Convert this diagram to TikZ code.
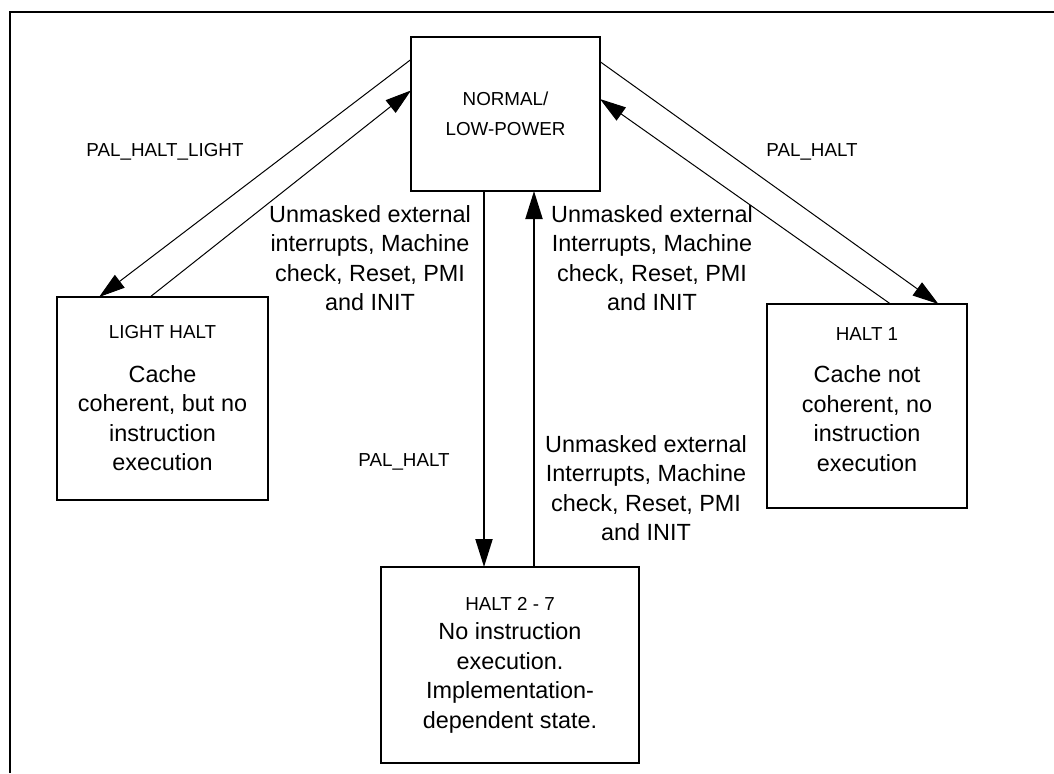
\documentclass[tikz,border=0pt]{standalone}
\usepackage{fontspec}
\setmainfont{Liberation Sans}
\usetikzlibrary{arrows.meta}
\newcommand{\statename}[1]{{\fontsize{9.4}{15}\selectfont #1}}
\begin{document}
\begin{tikzpicture}[
    x=0.5pt, y=-0.5pt,
    big/.style={font=\fontsize{11.7}{14.75}\selectfont},
    small/.style={font=\fontsize{9.4}{15}\selectfont},
    state/.style={draw,line width=1.3pt,align=center,inner sep=0pt,outer sep=0pt,big},
    lbl/.style={align=center,inner sep=0pt,big},
    arr/.style={-{Triangle[length=14pt,width=8.5pt]},line width=1pt},
    thinarr/.style={-{Triangle[length=13pt,width=8pt]},line width=0.5pt}
]
\useasboundingbox (0,0) rectangle (1054,773);
\draw[line width=1pt] (10,773) -- (10,12) -- (1054,12);
% states
\node[state,small,minimum width=94.5pt,minimum height=77pt] (normal) at (505.5,114) {NORMAL/\\LOW-POWER};
\node[state,minimum width=105.5pt,minimum height=101.5pt] (lighthalt) at (162.5,398.5) {\statename{LIGHT HALT}\\[7pt]Cache\\coherent, but no\\instruction\\execution};
\node[state,minimum width=100pt,minimum height=102pt] (haltone) at (867,406) {\statename{HALT 1}\\[6.5pt]Cache not\\coherent, no\\instruction\\execution\\[-8pt]\mbox{}};
\node[state,minimum width=129pt,minimum height=98pt] (halttwo) at (510,665) {\statename{HALT 2 - 7}\\No instruction\\execution.\\Implementation-\\dependent state.};
% transitions
\draw[thinarr] (normal.150.3) -- (lighthalt.122.4);
\draw[thinarr] (lighthalt.97) -- (normal.166.9);
\draw[thinarr] (normal.29.7) -- (haltone.55.2);
\draw[thinarr] (haltone.77.3) -- (normal.9.6);
\draw[arr] ([xshift=-10.75pt]normal.south) -- ([xshift=-10.75pt]normal.south |- halttwo.north);
\draw[arr] ([xshift=14.25pt]normal.south |- halttwo.north) -- ([xshift=14.25pt]normal.south);
% labels
\node[small] (lightlbl) at (165,152) {PAL\_HALT\_LIGHT};
\node[small] (haltlbl) at (812,152) {PAL\_HALT};
\node[small] (deeplbl) at (404,462) {PAL\_HALT};
\node[lbl] (wakeleft) at (370,258) {Unmasked external\\interrupts, Machine\\check, Reset, PMI\\and INIT};
\node[lbl] (wakeright) at (652,258) {Unmasked external\\Interrupts, Machine\\check, Reset, PMI\\and INIT};
\node[lbl] (wakedeep) at (646,488) {Unmasked external\\Interrupts, Machine\\check, Reset, PMI\\and INIT};
\end{tikzpicture}
\end{document}
